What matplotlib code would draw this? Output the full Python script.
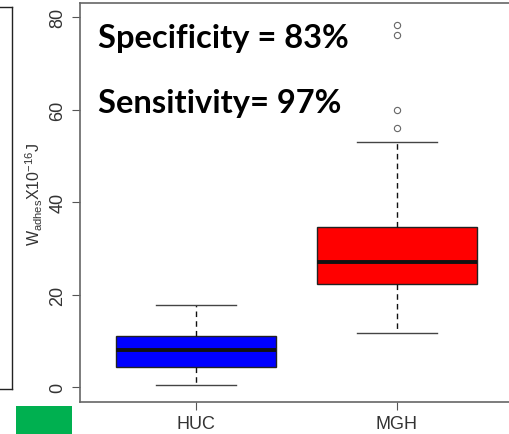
import matplotlib
matplotlib.use("Agg")
import matplotlib.pyplot as plt
from matplotlib.patches import Rectangle
from matplotlib.lines import Line2D

# box plot summary
groups = ['HUC', 'MGH']
whislo = [0.4, 11.7]
q1 = [4.3, 22.4]
med = [8.0, 27.1]
q3 = [11.1, 34.6]
whishi = [17.8, 53.0]
fliers = [[], [55.9, 59.9, 76.0, 78.3]]
box_colors = ['#0000ff', '#ff0000']

yticks = [0, 20, 40, 60, 80]
notes = ['Specificity = 83%', 'Sensitivity= 97%']

W, H = 510, 435
fig = plt.figure(figsize=(W / 100, H / 100), dpi=100)
ax = fig.add_axes([80 / W, 1 - 402.7 / H, 433 / W, 398.7 / H])

stats = []
for i, g in enumerate(groups):
    stats.append(dict(label=g, whislo=whislo[i], q1=q1[i], med=med[i],
                      q3=q3[i], whishi=whishi[i], fliers=fliers[i]))

bp = ax.bxp(stats, positions=[1, 2], widths=0.8, patch_artist=True,
            boxprops=dict(linewidth=1.0, edgecolor='#222222'),
            medianprops=dict(color='#111111', linewidth=2.8),
            whiskerprops=dict(color='#111111', linewidth=1.0, linestyle=(0, (4, 3))),
            capprops=dict(color='#444444', linewidth=1.0),
            flierprops=dict(marker='o', markersize=4.5, markerfacecolor='none',
                            markeredgecolor='#666666', markeredgewidth=0.8))
for patch, c in zip(bp['boxes'], box_colors):
    patch.set_facecolor(c)

ax.set_xlim(0.42, 2.58)
ax.set_ylim(-3.1, 83)
ax.set_yticks(yticks)
ax.tick_params(axis='y', labelrotation=90, length=5.8, pad=4, labelsize=13,
               colors='#555555', labelcolor='#333333')
ax.tick_params(axis='x', length=5.8, pad=4, labelsize=13,
               colors='#555555', labelcolor='#333333')
for lab in ax.get_yticklabels():
    lab.set_verticalalignment('center')
    lab.set_fontfamily('Liberation Sans')
for lab in ax.get_xticklabels():
    lab.set_fontfamily('Liberation Sans')
for s in ax.spines.values():
    s.set_color('#666666')
    s.set_linewidth(1.2)
ax.spines['right'].set_visible(False)

fig.text(34 / W, 1 - 194 / H, r'W$_{\mathregular{adhes}}$X10$^{\mathregular{-16}}$J',
         rotation=90, ha='center', va='center', fontsize=11.5, color='#333333',
         family='Liberation Sans')

fig.text(98 / W, 1 - 48.3 / H, notes[0], fontsize=23.5, fontweight='bold',
         family='Lato', va='baseline', ha='left', color='black')
fig.text(98 / W, 1 - 112.7 / H, notes[1], fontsize=23.5, fontweight='bold',
         family='Lato', va='baseline', ha='left', color='black')

# bits of the neighbouring panel cut off at the left edge
for (x0, y0, x1, y1) in [(0, 8, 12, 8), (12, 8, 12, 390), (0, 390, 12, 390)]:
    fig.add_artist(Line2D([x0 / W, x1 / W], [1 - y0 / H, 1 - y1 / H],
                          transform=fig.transFigure, color='#222222', linewidth=1))
fig.add_artist(Rectangle((16 / W, 0), 56 / W, 28 / H, transform=fig.transFigure,
                         facecolor='#00b050', edgecolor='none'))

fig.savefig('out.png', dpi=100)
